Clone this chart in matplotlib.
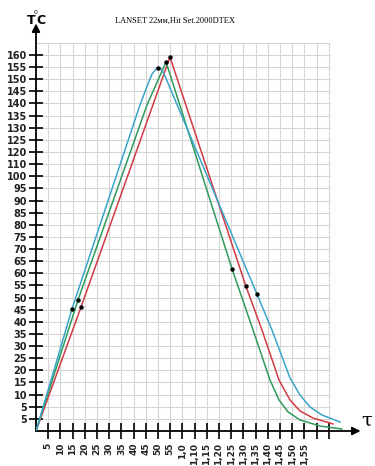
import matplotlib
matplotlib.use("Agg")
import matplotlib.pyplot as plt

# tick labels (positions are grid steps 1..n)
y_labels = ["5", "5", "10", "15", "20", "25", "30", "35", "40", "45", "50", "55",
            "60", "65", "70", "75", "80", "85", "90", "95", "100", "110", "120",
            "125", "130", "135", "140", "145", "150", "155", "160"]
x_labels = ["5", "10", "15", "20", "25", "30", "35", "40", "45", "50", "55",
            "1,0", "1,10", "1,15", "1,20", "1,25", "1,30", "1,35", "1,40",
            "1,45", "1,50", "1,55", "", ""]

# curves, in grid steps
red_x = [0, 3.69, 10.98, 17.2, 18.52, 19.92, 20.82, 21.64, 22.70, 24.34]
red_y = [0, 10.22, 30.83, 11.95, 8.33, 4.20, 2.56, 1.65, 1.07, 0.58]

green_x = [0, 3.44, 9.10, 10.66, 16.07, 17.79, 19.18, 19.92, 20.66, 21.64,
           23.28, 25.08]
green_y = [0, 10.80, 26.88, 30.42, 13.36, 8.33, 4.20, 2.56, 1.57, 0.91,
           0.41, 0.16]

blue_x = [0, 2.95, 8.52, 9.18, 9.51, 9.84, 10.08, 10.33, 10.57, 18.11, 19.34,
          20.82, 21.64, 22.46, 23.44, 24.92]
blue_y = [0, 10.06, 26.88, 28.61, 29.43, 29.84, 29.93, 29.76, 29.27, 11.29, 8.33,
          4.37, 2.97, 1.98, 1.32, 0.74]

# marked points
dot_x = [10.98, 10.66, 10.0, 2.95, 3.44, 3.69, 16.07, 17.2, 18.11]
dot_y = [30.83, 30.42, 29.9, 10.06, 10.80, 10.22, 13.36, 11.95, 11.29]

XMAX, YMAX = 26.6, 33.6

fig = plt.figure(figsize=(3.75, 4.66), dpi=100)
ax = fig.add_axes([36 / 375, 35 / 466, XMAX * 12.2 / 375, YMAX * 12.13 / 466])
ax.set_xlim(0, XMAX)
ax.set_ylim(0, YMAX)
for s in ax.spines.values():
    s.set_visible(False)

# light grid
ax.vlines(range(1, 25), 0, 32, color="#d6d6d6", lw=0.8, zorder=0)
ax.hlines(range(1, 33), 0, 24.1, color="#d6d6d6", lw=0.8, zorder=0)

# axes with arrows
arrow = dict(arrowstyle="-|>", lw=1.3, color="black", mutation_scale=12,
             shrinkA=0, shrinkB=0)
ax.annotate("", xy=(XMAX, 0), xytext=(0, 0), arrowprops=arrow, annotation_clip=False)
ax.annotate("", xy=(0, YMAX), xytext=(0, 0), arrowprops=arrow, annotation_clip=False)

ax.plot(red_x, red_y, color="#d23a46", lw=1.1, zorder=3)
ax.plot(green_x, green_y, color="#2f9a5a", lw=1.1, zorder=3)
ax.plot(blue_x, blue_y, color="#3aa5c9", lw=1.1, zorder=3)
ax.plot(dot_x, dot_y, "o", color="black", ms=2.2, zorder=4)

ax.set_yticks(range(1, len(y_labels) + 1))
ax.set_yticklabels(y_labels)
ax.set_xticks(range(1, len(x_labels) + 1))
ax.set_xticklabels(x_labels, rotation=90)
ax.tick_params(axis="y", direction="inout", length=10, width=1.2, pad=1.5,
               labelsize=7, labelcolor="#222222")
ax.tick_params(axis="x", direction="inout", length=12, width=1.2, pad=2.5,
               labelsize=6.5, labelcolor="#222222")
for lab in ax.get_xticklabels() + ax.get_yticklabels():
    lab.set_fontweight("bold")

# axis names and title
fig.text(31 / 375, 1 - 21 / 466, "T", ha="center", va="center", fontsize=9,
         fontweight="bold")
fig.text(36 / 375, 1 - 13 / 466, "0", ha="center", va="center", fontsize=4.5)
fig.text(41 / 375, 1 - 21 / 466, "C", ha="center", va="center", fontsize=9,
         fontweight="bold")
fig.text(367 / 375, 1 - 421 / 466, "τ", ha="center", va="center", fontsize=14,
         family="DejaVu Serif")
fig.text(175 / 375, 1 - 21 / 466, "LANSET 22мм,Hit Set.2000DTEX", ha="center",
         va="center", fontsize=6, family="Liberation Serif")

fig.savefig("out.png", dpi=100)
